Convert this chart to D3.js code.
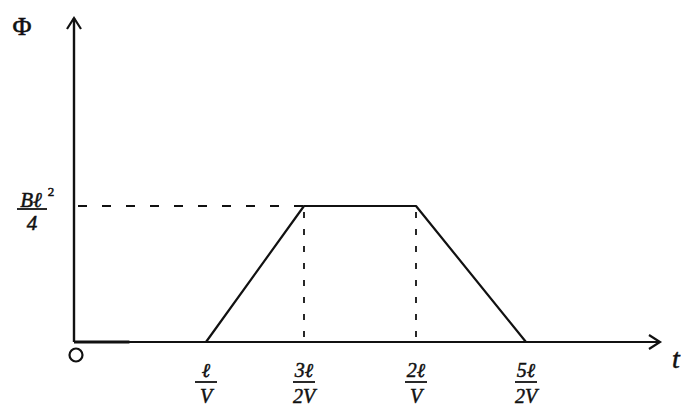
<!DOCTYPE html>
<html><head><meta charset="utf-8">
<script src="https://cdn.jsdelivr.net/npm/d3@7"></script>
<style>html,body{margin:0;padding:0;background:#fff;overflow:hidden}</style>
</head><body>
<svg id="c" width="681" height="417"></svg>
<script>
// Data (t in units of l/V, phi in units of B l^2 / 4)
const tPoints = [0, 1, 1.5, 2, 2.5];
const phiPoints = [0, 0, 1, 1, 0];
const tickValues = [1, 1.5, 2, 2.5];
const tickNumerators = ["ℓ", "3ℓ", "2ℓ", "5ℓ"];
const tickDenominators = ["V", "2V", "V", "2V"];
const yTickValue = 1;
const yTickNumerator = "Bℓ";
const yTickDenominator = "4";

const svg = d3.select("#c");
const x0 = 74, y0 = 342, xArrow = 660, yArrow = 18;
// hand-drawn axis is not drawn to scale
const x = d3.scaleLinear().domain([0, 1, 1.5, 2, 2.5]).range([x0, 206, 304, 416, 526]);
const y = d3.scaleLinear().domain([0, 1]).range([y0, 206]);
const ink = "#111";
const font = "'Liberation Serif', serif";

function label(sel) {
  return sel.attr("font-family", font).attr("font-style", "italic").attr("fill", ink)
    .attr("stroke", ink).attr("stroke-width", 0.5);
}

// dashed guides
svg.append("line").attr("x1", x0 + 4).attr("x2", x(1.5)).attr("y1", y(yTickValue)).attr("y2", y(yTickValue))
  .attr("stroke", ink).attr("stroke-width", 2).attr("stroke-dasharray", "9,15");
[1.5, 2].forEach(v => {
  svg.append("line").attr("x1", x(v)).attr("x2", x(v)).attr("y1", y(1) + 6).attr("y2", y(0))
    .attr("stroke", ink).attr("stroke-width", 1.8).attr("stroke-dasharray", "6,11");
});

// axes
svg.append("line").attr("x1", x0).attr("x2", x0).attr("y1", y0).attr("y2", yArrow)
  .attr("stroke", ink).attr("stroke-width", 2.4);
svg.append("line").attr("x1", x0).attr("x2", xArrow).attr("y1", y0).attr("y2", y0)
  .attr("stroke", ink).attr("stroke-width", 2.2);
svg.append("path").attr("d", `M${x0-7},${yArrow+11}L${x0},${yArrow}L${x0+7},${yArrow+11}`)
  .attr("fill", "none").attr("stroke", ink).attr("stroke-width", 2.2);
svg.append("path").attr("d", `M${xArrow-11},${y0-7}L${xArrow},${y0}L${xArrow-11},${y0+7}`)
  .attr("fill", "none").attr("stroke", ink).attr("stroke-width", 2.2);

// data line
const line = d3.line().x((d, i) => x(tPoints[i])).y(d => y(d));
svg.append("path").datum(phiPoints).attr("d", line)
  .attr("fill", "none").attr("stroke", ink).attr("stroke-width", 2.2).attr("stroke-linejoin", "round");
svg.append("line").attr("x1", x0).attr("x2", x(0.42)).attr("y1", y0).attr("y2", y0)
  .attr("stroke", ink).attr("stroke-width", 3.2);

// axis labels
svg.append("text").attr("x", 22).attr("y", 35).attr("text-anchor", "middle")
  .attr("font-family", font).attr("font-size", 26).attr("fill", ink).attr("stroke", ink).attr("stroke-width", 0.6).text("Φ");
label(svg.append("text")).attr("x", 676).attr("y", 368).attr("text-anchor", "middle")
  .attr("font-size", 28).text("t");
svg.append("circle").attr("cx", 76).attr("cy", 355).attr("r", 6.5)
  .attr("fill", "none").attr("stroke", ink).attr("stroke-width", 2.2);

// y tick label Bl^2/4
label(svg.append("text")).attr("x", 31).attr("y", y(yTickValue) + 1).attr("text-anchor", "middle")
  .attr("font-size", 21).text(yTickNumerator);
label(svg.append("text")).attr("x", 51).attr("y", y(yTickValue) - 10).attr("text-anchor", "middle")
  .attr("font-style", "normal").attr("font-size", 13).text("2");
svg.append("line").attr("x1", 17).attr("x2", 47).attr("y1", y(yTickValue) + 3).attr("y2", y(yTickValue) + 3)
  .attr("stroke", ink).attr("stroke-width", 1.8);
label(svg.append("text")).attr("x", 32).attr("y", y(yTickValue) + 24).attr("text-anchor", "middle")
  .attr("font-size", 21).text(yTickDenominator);

// x tick labels as fractions
const g = svg.selectAll("g.tick").data(tickValues).join("g").attr("class", "tick")
  .attr("transform", d => `translate(${x(d)},0)`);
label(g.append("text")).attr("y", 377).attr("text-anchor", "middle")
  .attr("font-size", 20).text((d, i) => tickNumerators[i]);
g.append("line").attr("x1", -11).attr("x2", 11).attr("y1", 382).attr("y2", 382)
  .attr("stroke", ink).attr("stroke-width", 1.8);
label(g.append("text")).attr("y", 403).attr("text-anchor", "middle")
  .attr("font-size", 20).text((d, i) => tickDenominators[i]);
</script>
</body></html>
